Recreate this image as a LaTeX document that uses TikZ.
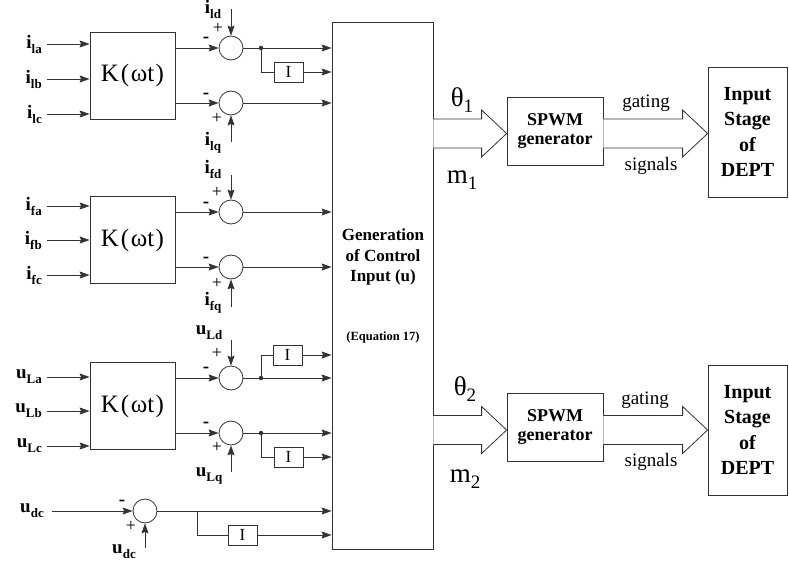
\documentclass[tikz,border=0pt]{standalone}
\usepackage{fontspec}
\setmainfont{Liberation Serif}
\usetikzlibrary{arrows.meta,calc}
\newcommand\setfs[2]{\fontsize{#1}{#2}\selectfont}
\newcommand\sbx[1]{\raisebox{-5pt}{\setfs{13}{13}#1}}
\newcommand\gsb[1]{\raisebox{-6pt}{\setfs{19}{19}#1}}
\newcommand\hollowarrow[2]{%
  \draw[line, fill=white] ($(#1)+(0,-14.5)$) -- ($(#2)+(-25,-14.5)$) -- ($(#2)+(-25,-23.5)$) -- (#2)
    -- ($(#2)+(-25,23.5)$) -- ($(#2)+(-25,14.5)$) -- ($(#1)+(0,14.5)$);}
\begin{document}
\begin{tikzpicture}[x=1pt,y=-1pt,
  line/.style={draw=black!80, line width=0.8pt},
  arr/.style={line, -{Stealth[length=10pt,width=7pt,inset=1.5pt]}},
  kbox/.style={line, minimum width=85pt, minimum height=87pt, inner sep=0pt, font=\setfs{25}{25}},
  sum/.style={line, circle, minimum size=24pt, inner sep=0pt},
  ibox/.style={line, minimum width=29pt, minimum height=20pt, inner sep=0pt, font=\setfs{17}{17}},
  lbl/.style={font=\bfseries\setfs{19}{19}, inner sep=0pt},
  sgn/.style={font=\setfs{18}{18}, inner sep=0pt},
  mns/.style={font=\bfseries\setfs{19}{19}, inner sep=0pt},
  dot/.style={circle, fill=black!80, minimum size=4.5pt, inner sep=0pt},
  spwm/.style={line, minimum width=96pt, minimum height=68pt, inner sep=0pt, align=center, font=\bfseries\setfs{18}{18.5}},
  dept/.style={line, minimum width=79pt, minimum height=130pt, inner sep=0pt, align=center, font=\bfseries\setfs{20}{25.5}},
  glbl/.style={font=\setfs{27}{27}, inner sep=0pt},
  slbl/.style={font=\setfs{19}{19}, inner sep=0pt}
]
\useasboundingbox (0,0) rectangle (789,564);

% central block
\node[line, minimum width=101pt, minimum height=527pt, inner sep=0pt] (gen) at (382.5,285.5) {};
\node[font=\bfseries\setfs{17}{20.5}, align=center, inner sep=0pt] (gtxt) at (383,257) {Generation\\of Control\\Input (u)};
\node[font=\bfseries\setfs{12.5}{12.5}, inner sep=0pt] (geq) at (383,337) {(Equation 17)};

% K boxes
\node[kbox] (K1) at (132.5,75.5) {K\kern2pt(\kern1.5pt ωt\kern1.5pt)};
\node[kbox] (K2) at (132.5,240) {K\kern2pt(\kern1.5pt ωt\kern1.5pt)};
\node[kbox] (K3) at (132.5,406) {K\kern2pt(\kern1.5pt ωt\kern1.5pt)};

% inputs
\foreach \n/\y/\t/\k in {la/44/i\sbx{la}/K1, lb/79/i\sbx{lb}/K1, lc/114/i\sbx{lc}/K1,
                         fa/206/i\sbx{fa}/K2, fb/240/i\sbx{fb}/K2, fc/275/i\sbx{fc}/K2,
                         ua/377/u\sbx{La}/K3, ub/411/u\sbx{Lb}/K3, uc/446/u\sbx{Lc}/K3}{
  \node[lbl, anchor=east] (\n) at (42,\y) {\t};
  \draw[arr] ([xshift=5pt]\n.east) -- (\n.east -| \k.west);
}

% ---------- group 1 ----------
\node[sum] (S1d) at (231,48) {};
\node[sum] (S1q) at (231,103) {};
\draw[arr] (K1.east |- S1d) -- (S1d);
\draw[arr] (K1.east |- S1q) -- (S1q);
\node[mns] (M1d) at (206,40) {-};
\node[mns] (M1q) at (206,96) {-};
\coordinate (T1d) at (231,9);
\draw[arr] (T1d) -- (S1d);
\node[lbl] (L1d) at (213,9.5) {i\sbx{ld}};
\node[sgn] (P1d) at (218,28) {+};
\coordinate (B1q) at (231,142);
\draw[arr] (B1q) -- (S1q);
\node[lbl] (L1q) at (213,143) {i\sbx{lq}};
\node[sgn] (P1q) at (217,118) {+};
\node[dot] (D1) at (261,48) {};
\draw[arr] (S1d) -- (S1d -| gen.west);
\node[ibox] (I1) at (288.5,72) {I};
\draw[line] (D1.center) |- (I1.west);
\draw[arr] (I1.east) -- (I1.east -| gen.west);
\draw[arr] (S1q) -- (S1q -| gen.west);

% ---------- group 2 ----------
\node[sum] (S2d) at (231,212) {};
\node[sum] (S2q) at (231,267) {};
\draw[arr] (K2.east |- S2d) -- (S2d);
\draw[arr] (K2.east |- S2q) -- (S2q);
\node[mns] (M2d) at (206,205) {-};
\node[mns] (M2q) at (206,260) {-};
\coordinate (T2d) at (231,175);
\draw[arr] (T2d) -- (S2d);
\node[lbl] (L2d) at (213,169) {i\sbx{fd}};
\node[sgn] (P2d) at (217,192) {+};
\coordinate (B2q) at (231,307);
\draw[arr] (B2q) -- (S2q);
\node[lbl] (L2q) at (213,303) {i\sbx{fq}};
\node[sgn] (P2q) at (217,283) {+};
\draw[arr] (S2d) -- (S2d -| gen.west);
\draw[arr] (S2q) -- (S2q -| gen.west);

% ---------- group 3 ----------
\node[sum] (S3d) at (231,378) {};
\node[sum] (S3q) at (231,433) {};
\draw[arr] (K3.east |- S3d) -- (S3d);
\draw[arr] (K3.east |- S3q) -- (S3q);
\node[mns] (M3d) at (206,370) {-};
\node[mns] (M3q) at (206,425) {-};
\coordinate (T3d) at (231,340);
\draw[arr] (T3d) -- (S3d);
\node[lbl] (L3d) at (209,333) {u\sbx{Ld}};
\node[sgn] (P3d) at (217,353) {+};
\coordinate (B3q) at (231,472);
\draw[arr] (B3q) -- (S3q);
\node[lbl] (L3q) at (209,476) {u\sbx{Lq}};
\node[sgn] (P3q) at (217,447) {+};
\node[dot] (D3a) at (261,378) {};
\node[dot] (D3b) at (261,433) {};
\node[ibox] (I3a) at (287.5,355) {I};
\node[ibox] (I3b) at (288.5,457) {I};
\draw[arr] (S3d) -- (S3d -| gen.west);
\draw[arr] (S3q) -- (S3q -| gen.west);
\draw[line] (D3a.center) |- (I3a.west);
\draw[line] (D3b.center) |- (I3b.west);
\draw[arr] (I3a.east) -- (I3a.east -| gen.west);
\draw[arr] (I3b.east) -- (I3b.east -| gen.west);

% ---------- group 4 ----------
\node[lbl, anchor=east] (udc) at (44,511) {u\sbx{dc}};
\node[sum] (S4) at (145,511) {};
\draw[arr] ([xshift=8pt]udc.east) -- (S4);
\node[mns] (M4) at (122,503) {-};
\node[sgn] (P4) at (131,526) {+};
\coordinate (B4) at (145,548);
\draw[arr] (B4) -- (S4);
\node[lbl] (L4) at (124,552) {u\sbx{dc}};
\draw[arr] (S4) -- (S4 -| gen.west);
\coordinate (J4) at (197,511);
\node[ibox] (I4) at (242.5,535) {I};
\draw[line] (J4) |- (I4.west);
\draw[arr] (I4.east) -- (I4.east -| gen.west);

% ---------- right side ----------
\coordinate (r1) at (440,133.5);
\coordinate (r2) at (440,430);
\node[spwm] (SP1) at (555,131) {SPWM\\generator};
\node[spwm] (SP2) at (555,427) {SPWM\\generator};
\node[dept] (DE1) at (747.5,132) {Input\\Stage\\of\\DEPT};
\node[dept] (DE2) at (747.5,430) {Input\\Stage\\of\\DEPT};
\coordinate (a1s) at (gen.east |- r1);
\coordinate (a1t) at (SP1.west |- r1);
\coordinate (b1s) at (SP1.east |- r1);
\coordinate (b1t) at (DE1.west |- r1);
\coordinate (a2s) at (gen.east |- r2);
\coordinate (a2t) at (SP2.west |- r2);
\coordinate (b2s) at (SP2.east |- r2);
\coordinate (b2t) at (DE2.west |- r2);
\hollowarrow{a1s}{a1t}
\hollowarrow{b1s}{b1t}
\hollowarrow{a2s}{a2t}
\hollowarrow{b2s}{b2t}
\node[glbl] (th1) at (462,100) {θ\gsb{1}};
\node[glbl] (m1) at (462,180) {m\gsb{1}};
\node[glbl] (th2) at (465,389) {θ\gsb{2}};
\node[glbl] (m2) at (465,479) {m\gsb{2}};
\node[slbl] (g1) at (646,103) {gating};
\node[slbl] (s1) at (651,166) {signals};
\node[slbl] (g2) at (645,400) {gating};
\node[slbl] (s2) at (651,462) {signals};
\end{tikzpicture}
\end{document}
